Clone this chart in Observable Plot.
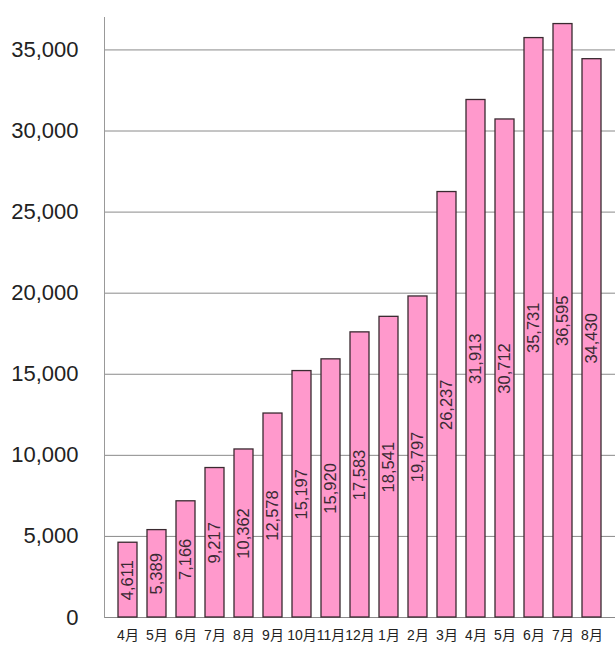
<!DOCTYPE html>
<html>
<head>
<meta charset="utf-8">
<script src="https://cdn.jsdelivr.net/npm/d3@7"></script>
<script src="https://cdn.jsdelivr.net/npm/@observablehq/plot@0.6"></script>
<style>
  html, body { margin: 0; padding: 0; background: #fff; }
</style>
</head>
<body>
<div id="chart"></div>
<script>
const months = ["4月","5月","6月","7月","8月","9月","10月","11月","12月","1月","2月","3月","4月","5月","6月","7月","8月"];
const values = [4611,5389,7166,9217,10362,12578,15197,15920,17583,18541,19797,26237,31913,30712,35731,36595,34430];
const yTicks = [0,5000,10000,15000,20000,25000,30000,35000];

const data = months.map((m, i) => ({i, m, v: values[i]}));
const fmt = d3.format(",");

const chart = Plot.plot({
  width: 615,
  height: 646,
  marginLeft: 104,
  marginRight: 0,
  marginTop: 17,
  marginBottom: 29,
  style: {fontFamily: "'Liberation Sans', Arial, 'Noto Sans CJK JP', sans-serif", background: "#fff"},
  x: {type: "band", domain: d3.range(months.length), paddingInner: 0.35, paddingOuter: 0.2},
  y: {domain: [0, 37000]},
  marks: [
    Plot.ruleY(yTicks, {stroke: "#8a8a8a", strokeWidth: 1}),
    Plot.frame({anchor: "left", stroke: "#999"}),
    Plot.barY(data, {x: "i", y: "v", fill: "#ff99cc", stroke: "#3a2a30", strokeWidth: 1.3}),
    Plot.text(data, {x: "i", y: d => d.v / 2, text: d => fmt(d.v), rotate: -90, fontSize: 16.5, fill: "#3a2a33"}),
    Plot.axisY({ticks: yTicks, tickFormat: fmt, tickSize: 0, tickPadding: 26, fontSize: 22, fill: "#222", label: null}),
    Plot.axisX({tickFormat: i => months[i], tickSize: 0, tickPadding: 13, fontSize: 14, fill: "#222", label: null})
  ]
});
document.getElementById("chart").appendChild(chart);
</script>
</body>
</html>
